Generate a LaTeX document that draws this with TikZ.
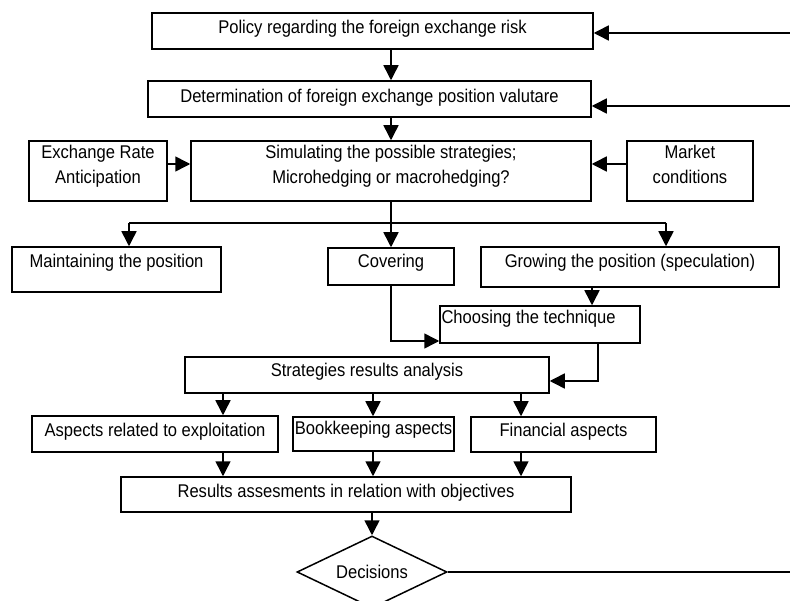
\documentclass[tikz,border=0pt]{standalone}
\usepackage{fontspec}
\setmainfont[FakeStretch=0.9]{Liberation Sans}
\usetikzlibrary{arrows.meta,shapes.geometric}
\tikzset{
  box/.style={draw, line width=1.5pt, inner sep=0pt, font=\fontsize{18.4}{25}\selectfont},
  arr/.style={line width=1.5pt, -{Triangle[length=15pt,width=15pt]}},
  ln/.style={line width=1.5pt},
}
\newcommand{\twolines}[2]{\begin{tabular}[t]{@{}c@{}}#1\\#2\end{tabular}}
\begin{document}
\begin{tikzpicture}[x=1pt,y=-1pt]
\fill[white] (0,0) rectangle (790,601);
\useasboundingbox (0,0) rectangle (790,601);

\node[box, minimum width=441pt, minimum height=36pt, text height=21pt, text depth=15pt] (pol) at (372.5,31) {Policy regarding the foreign exchange risk};
\node[box, minimum width=443pt, minimum height=36pt, text height=22pt, text depth=14pt] (det) at (369.5,99) {Determination of foreign exchange position valutare};
\node[box, minimum width=138pt, minimum height=60pt, text height=18pt, text depth=42pt] (era) at (98,171) {\twolines{Exchange Rate}{Anticipation}};
\node[box, minimum width=400pt, minimum height=60pt, text height=18pt, text depth=42pt] (sim) at (391,171) {\twolines{Simulating the possible strategies;}{Microhedging or macrohedging?}};
\node[box, minimum width=126pt, minimum height=60pt, text height=18pt, text depth=42pt] (mkt) at (690,171) {\twolines{Market}{conditions}};
\node[box, minimum width=209pt, minimum height=45pt, text height=21pt, text depth=24pt] (mnt) at (116.5,269.5) {Maintaining the position};
\node[box, minimum width=126pt, minimum height=37pt, text height=20pt, text depth=17pt] (cov) at (391,266.5) {Covering};
\node[box, minimum width=298pt, minimum height=40pt, text height=21pt, text depth=19pt] (gro) at (630,267) {Growing the position (speculation)};
\node[box, inner xsep=1.5pt, minimum height=37pt, text height=18pt, text depth=19pt] (cho) at (540,324.5) {\makebox[197pt][l]{Choosing the technique}};
\node[box, minimum width=364pt, minimum height=36pt, text height=20pt, text depth=16pt] (str) at (367,375) {Strategies results analysis};
\node[box, minimum width=246pt, minimum height=36pt, text height=20pt, text depth=16pt] (asp) at (155,434) {Aspects related to exploitation};
\node[box, minimum width=161pt, minimum height=34pt, text height=18pt, text depth=16pt] (bk) at (373.5,434) {Bookkeeping aspects};
\node[box, minimum width=185pt, minimum height=35pt, text height=19pt, text depth=16pt] (fin) at (563.5,434.5) {Financial aspects};
\node[box, minimum width=450pt, minimum height=35pt, text height=20pt, text depth=15pt] (res) at (346,494.5) {Results assesments in relation with objectives};
\node[box, diamond, minimum width=150pt, minimum height=72pt, shape aspect=2.08] (dec) at (372,572) {Decisions};

\coordinate (xa) at (223,0);
\coordinate (xb) at (373,0);
\coordinate (xc) at (521,0);
\coordinate (brL) at (129,223);
\coordinate (brR) at (666,223);
\coordinate (f1) at (790,33);
\coordinate (f2) at (790,106);
\coordinate (fE) at (790,572);

\draw[arr] (f1) -- (f1 -| pol.east);
\draw[arr] (f2) -- (f2 -| det.east);
\draw[arr] (pol.south -| sim) -- (det.north -| sim);
\draw[arr] (det.south -| sim) -- (sim.north);
\draw[arr] ([yshift=7pt]era.east) -- ([yshift=7pt]sim.west);
\draw[arr] ([yshift=7pt]mkt.west) -- ([yshift=7pt]sim.east);
\draw[ln] (brL) -- (brR);
\draw[arr] (sim.south) -- (cov.north);
\draw[arr] (brL) -- (brL |- mnt.north);
\draw[arr] (brR) -- (brR |- gro.north);
\draw[arr] ([xshift=-38pt]gro.south) -- ([xshift=-38pt]gro.south |- cho.north);
\draw[arr] (cov.south) |- ([yshift=-16.5pt]cho.west);
\draw[arr] ([xshift=58pt]cho.south) |- ([yshift=-6pt]str.east);
\draw[arr] (str.south -| xa) -- (asp.north -| xa);
\draw[arr] (str.south -| xb) -- (bk.north -| xb);
\draw[arr] (str.south -| xc) -- (fin.north -| xc);
\draw[arr] (asp.south -| xa) -- (res.north -| xa);
\draw[arr] (bk.south -| xb) -- (res.north -| xb);
\draw[arr] (fin.south -| xc) -- (res.north -| xc);
\draw[arr] (res.south -| dec) -- (dec.north);
\draw[ln] (dec.east) -- (fE);
\end{tikzpicture}
\end{document}
